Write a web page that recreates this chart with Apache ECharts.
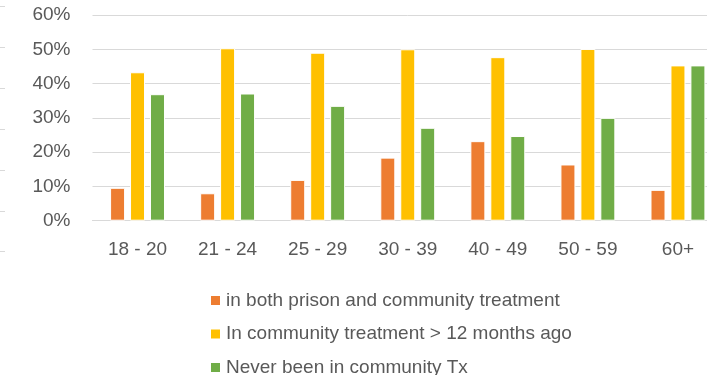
<!DOCTYPE html>
<html>
<head>
<meta charset="utf-8">
<script src="https://cdn.jsdelivr.net/npm/echarts@6/dist/echarts.min.js"></script>
<style>
  html, body { margin: 0; padding: 0; overflow: hidden; background: #fff; }
  #chart { width: 723px; height: 375px; }
</style>
</head>
<body>
<div id="chart"></div>
<script>
// age groups
var categories = ['18 - 20', '21 - 24', '25 - 29', '30 - 39', '40 - 49', '50 - 59', '60+'];
var seriesNames = [
    'in both prison and community treatment',
    'In community treatment > 12 months ago',
    'Never been in community Tx'
];
var bothPrisonCommunity = [9.6, 8.0, 11.9, 18.4, 23.2, 16.4, 9.0];
var communityOver12m = [43.3, 50.3, 49.0, 50.0, 47.7, 50.1, 45.3];
var neverCommunity = [36.9, 37.1, 33.5, 27.1, 24.7, 30.0, 45.3];
var yTicks = [0, 10, 20, 30, 40, 50, 60];

var colors = ['#ED7D31', '#FFC000', '#70AD47'];
var textColor = '#595959';
var fontName = '"Liberation Sans", Arial, sans-serif';

var main = {
    init: function () {
        var dom = document.getElementById('chart');
        var myChart = echarts.init(dom);
        var values = [bothPrisonCommunity, communityOver12m, neverCommunity];
        var series = [];
        for (var i = 0; i < seriesNames.length; i++) {
            series.push({
                name: seriesNames[i],
                type: 'bar',
                barWidth: 15,
                barGap: '33%',
                itemStyle: { color: colors[i], borderColor: '#ffffff', borderWidth: 1 },
                data: values[i]
            });
        }
        // faint tick marks along the left edge (cropped axis in the picture)
        series.push({
            type: 'line', xAxisIndex: 1, yAxisIndex: 1, data: [], silent: true
        });

        var option = {
            animation: false,
            textStyle: { fontFamily: fontName },
            legend: {
                orient: 'vertical',
                left: 209,
                top: 291,
                height: 120,
                padding: 0,
                itemWidth: 11,
                itemHeight: 11,
                itemGap: 14.5,
                icon: 'rect',
                data: seriesNames,
                textStyle: { color: textColor, fontSize: 19, fontFamily: fontName, lineHeight: 18 }
            },
            grid: [
                { left: 92.5, right: 0, top: 15, bottom: 154.3 },
                { left: 5, width: 1, top: 6.7, height: 245 }
            ],
            xAxis: [{
                type: 'category',
                data: categories,
                axisLine: { lineStyle: { color: '#d9d9d9', width: 1 } },
                axisTick: { show: false },
                axisLabel: { color: textColor, fontSize: 19, margin: 20, fontFamily: fontName }
            }, {
                gridIndex: 1, type: 'value', show: false
            }],
            yAxis: [{
                type: 'value',
                min: yTicks[0],
                max: yTicks[yTicks.length - 1],
                interval: 10,
                axisLine: { show: false },
                axisTick: { show: false },
                splitLine: { lineStyle: { color: '#d9d9d9', width: 1 } },
                axisLabel: {
                    color: textColor, fontSize: 19, margin: 22, fontFamily: fontName,
                    formatter: function (v) { return v + '%'; }
                }
            }, {
                gridIndex: 1,
                type: 'value',
                min: 0, max: 6, interval: 1,
                axisLine: { show: false },
                axisLabel: { show: false },
                splitLine: { show: false },
                axisTick: { show: true, length: 5, lineStyle: { color: '#d9d9d9' } }
            }],
            series: series
        };
        myChart.setOption(option, true);
    }
};
main.init();
</script>
</body>
</html>
